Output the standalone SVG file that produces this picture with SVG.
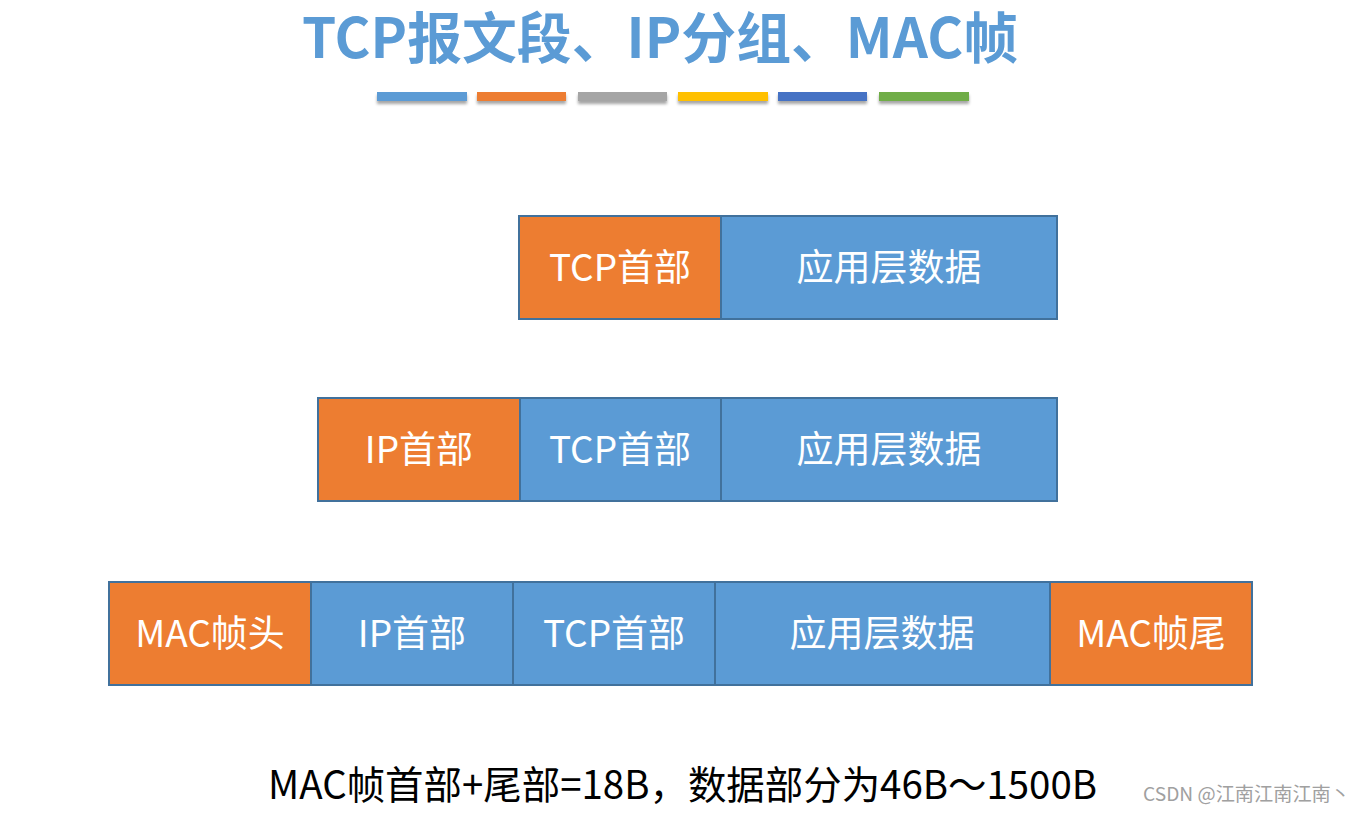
<svg xmlns="http://www.w3.org/2000/svg" width="1361" height="813" viewBox="0 0 1361 813">
<style>
.t{font-family:"Noto Sans CJK SC","Noto Sans",sans-serif;}
.title{font-weight:bold;font-size:55px;fill:#5b9bd5;}
.o{fill:#ed7d31;stroke:#41719c;stroke-width:2;}
.b{fill:#5b9bd5;stroke:#41719c;stroke-width:2;}
.lbl{fill:#ffffff;font-size:37px;text-anchor:middle;dominant-baseline:central;}
.note{fill:#000000;font-size:39px;}
.wm{fill:#a0a0a0;font-size:19px;}
</style>
<defs>
<filter id="sh" x="-10%" y="-50%" width="120%" height="250%">
<feDropShadow dx="0" dy="3" stdDeviation="1.5" flood-color="#000" flood-opacity="0.35"/>
</filter>
</defs>
<rect width="1361" height="813" fill="#ffffff"/>
<text class="t title" x="660" y="58" text-anchor="middle" textLength="716" lengthAdjust="spacingAndGlyphs">TCP报文段、IP分组、MAC帧</text>
<g id="bars" filter="url(#sh)">
<rect x="377" y="92" width="90" height="9" fill="#5b9bd5"/>
<rect x="477" y="92" width="89" height="9" fill="#ed7d31"/>
<rect x="578" y="92" width="89" height="9" fill="#a5a5a5"/>
<rect x="678" y="92" width="90" height="9" fill="#ffc000"/>
<rect x="778" y="92" width="89" height="9" fill="#4472c4"/>
<rect x="879" y="92" width="90" height="9" fill="#70ad47"/>
</g>
<g id="row1">
<g id="r1-tcp"><rect class="o" x="519" y="216" width="202" height="103"/><text class="t lbl" x="620" y="265">TCP首部</text></g>
<g id="r1-app"><rect class="b" x="721" y="216" width="336" height="103"/><text class="t lbl" x="889" y="265">应用层数据</text></g>
</g>
<g id="row2">
<g id="r2-ip"><rect class="o" x="318" y="398" width="202" height="103"/><text class="t lbl" x="419" y="447">IP首部</text></g>
<g id="r2-tcp"><rect class="b" x="520" y="398" width="201" height="103"/><text class="t lbl" x="620" y="447">TCP首部</text></g>
<g id="r2-app"><rect class="b" x="721" y="398" width="336" height="103"/><text class="t lbl" x="889" y="447">应用层数据</text></g>
</g>
<g id="row3">
<g id="r3-mach"><rect class="o" x="109" y="582" width="202" height="103"/><text class="t lbl" x="210" y="631">MAC帧头</text></g>
<g id="r3-ip"><rect class="b" x="311" y="582" width="202" height="103"/><text class="t lbl" x="412" y="631">IP首部</text></g>
<g id="r3-tcp"><rect class="b" x="513" y="582" width="202" height="103"/><text class="t lbl" x="614" y="631">TCP首部</text></g>
<g id="r3-app"><rect class="b" x="715" y="582" width="335" height="103"/><text class="t lbl" x="882" y="631">应用层数据</text></g>
<g id="r3-mact"><rect class="o" x="1050" y="582" width="202" height="103"/><text class="t lbl" x="1151" y="631">MAC帧尾</text></g>
</g>
<text class="t note" x="268" y="799" textLength="829" lengthAdjust="spacingAndGlyphs">MAC帧首部+尾部=18B，数据部分为46B～1500B</text>
<text class="t wm" x="1143" y="801" textLength="207" lengthAdjust="spacingAndGlyphs">CSDN @江南江南江南丶</text>
</svg>
